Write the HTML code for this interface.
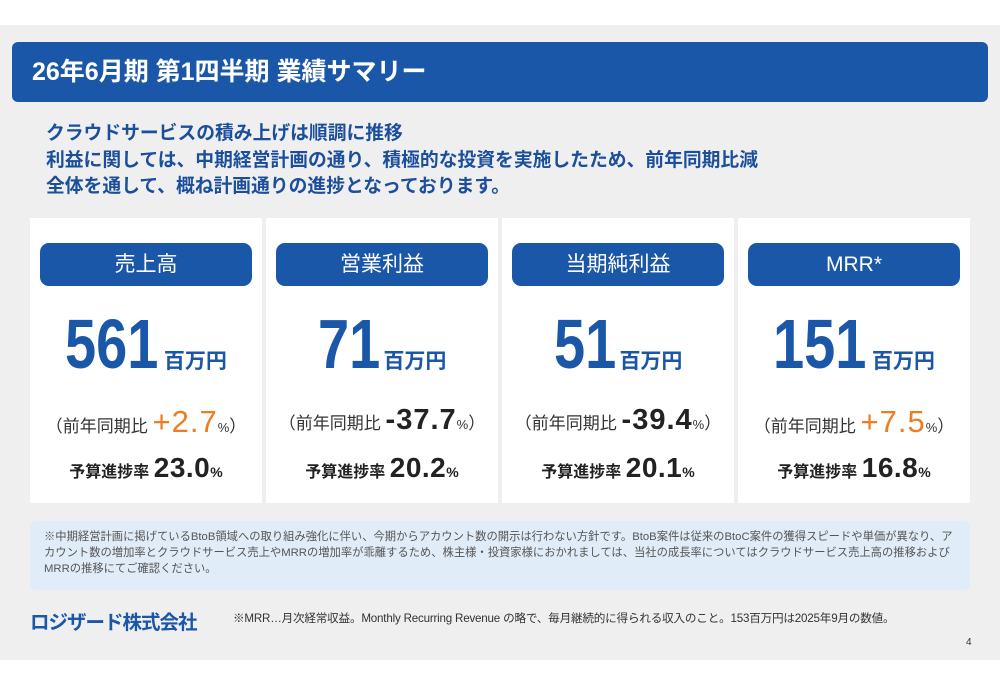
<!DOCTYPE html>
<html><head><meta charset="utf-8">
<style>
*{margin:0;padding:0;box-sizing:border-box}
body{width:1000px;height:685px;background:#fff;font-family:"Liberation Sans","Noto Sans CJK JP",sans-serif;position:relative;overflow:hidden}
.bg{position:absolute;left:0;top:25px;width:1000px;height:635px;background:#efefef}
.title{position:absolute;left:12px;top:42px;width:976px;height:60px;background:#1b57a8;border-radius:6px;color:#fff;font-weight:bold;font-size:25px;line-height:60px;padding-left:20px}
.sub{position:absolute;left:46px;top:120px;color:#1b4f9c;font-weight:bold;font-size:18.8px;line-height:26.5px}
.card{position:absolute;top:218px;width:232px;height:285px;background:#fff}
.pill{position:absolute;left:10px;top:25px;width:212px;height:43px;background:#1b57a8;border-radius:9px;color:#fff;font-size:21px;text-align:center;line-height:43px}
.big{position:absolute;left:0;top:86px;width:100%;text-align:center;color:#1b57a8;font-weight:bold;white-space:nowrap}
.big .n{display:inline-block;font-size:70px;transform:scaleX(0.8);transform-origin:left center}
.big .u{font-size:21px}
.cmp{position:absolute;left:0;top:186px;width:100%;text-align:center;color:#333;font-size:17px;white-space:nowrap}
.cmp b{font-size:29px;letter-spacing:1px}
.cmp .pl{font-weight:normal;font-size:31px}
.cmp .p{font-size:13px}
.bud{position:absolute;left:0;top:234px;width:100%;text-align:center;color:#222;font-weight:bold;font-size:16px;white-space:nowrap}
.bud b{font-size:28px;letter-spacing:0.5px}
.bud .p{font-size:14px}
.note{position:absolute;left:30px;top:521px;width:940px;height:69px;background:#e0ecf8;border-radius:6px;padding:8px 14px;font-size:11.3px;line-height:16px;color:#555}
.logo{position:absolute;left:30px;top:606px;color:#1b57a8;font-weight:bold;font-size:19.5px;letter-spacing:-1px}
.foot{position:absolute;left:233px;top:610px;font-size:11.6px;color:#333;letter-spacing:-0.2px}
.pg{position:absolute;left:966px;top:637px;font-size:10px;color:#333}
</style></head><body>
<div class="bg"></div>
<div class="title">26年6月期 第1四半期 業績サマリー</div>
<div class="sub">クラウドサービスの積み上げは順調に推移<br>利益に関しては、中期経営計画の通り、積極的な投資を実施したため、前年同期比減<br>全体を通して、概ね計画通りの進捗となっております。</div>

<div class="card" style="left:30px">
<div class="pill">売上高</div>
<div class="big"><span class="n" style="margin-right:-18px">561</span><span class="u">百万円</span></div>
<div class="cmp">（前年同期比 <b class="pl" style="color:#ee7d22">+2.7</b><span class="p">%</span>）</div>
<div class="bud">予算進捗率 <b>23.0</b><span class="p">%</span></div>
</div>

<div class="card" style="left:266px">
<div class="pill">営業利益</div>
<div class="big"><span class="n" style="margin-right:-12px">71</span><span class="u">百万円</span></div>
<div class="cmp">（前年同期比 <b style="color:#222">-37.7</b><span class="p">%</span>）</div>
<div class="bud">予算進捗率 <b>20.2</b><span class="p">%</span></div>
</div>

<div class="card" style="left:502px">
<div class="pill">当期純利益</div>
<div class="big"><span class="n" style="margin-right:-12px">51</span><span class="u">百万円</span></div>
<div class="cmp">（前年同期比 <b style="color:#222">-39.4</b><span class="p">%</span>）</div>
<div class="bud">予算進捗率 <b>20.1</b><span class="p">%</span></div>
</div>

<div class="card" style="left:738px">
<div class="pill">MRR*</div>
<div class="big"><span class="n" style="margin-right:-18px">151</span><span class="u">百万円</span></div>
<div class="cmp">（前年同期比 <b class="pl" style="color:#ee7d22">+7.5</b><span class="p">%</span>）</div>
<div class="bud">予算進捗率 <b>16.8</b><span class="p">%</span></div>
</div>

<div class="note">※中期経営計画に掲げているBtoB領域への取り組み強化に伴い、今期からアカウント数の開示は行わない方針です。BtoB案件は従来のBtoC案件の獲得スピードや単価が異なり、アカウント数の増加率とクラウドサービス売上やMRRの増加率が乖離するため、株主様・投資家様におかれましては、当社の成長率についてはクラウドサービス売上高の推移およびMRRの推移にてご確認ください。</div>
<div class="logo">ロジザード株式会社</div>
<div class="foot">※MRR…月次経常収益。Monthly Recurring Revenue の略で、毎月継続的に得られる収入のこと。153百万円は2025年9月の数値。</div>
<div class="pg">4</div>
</body></html>
